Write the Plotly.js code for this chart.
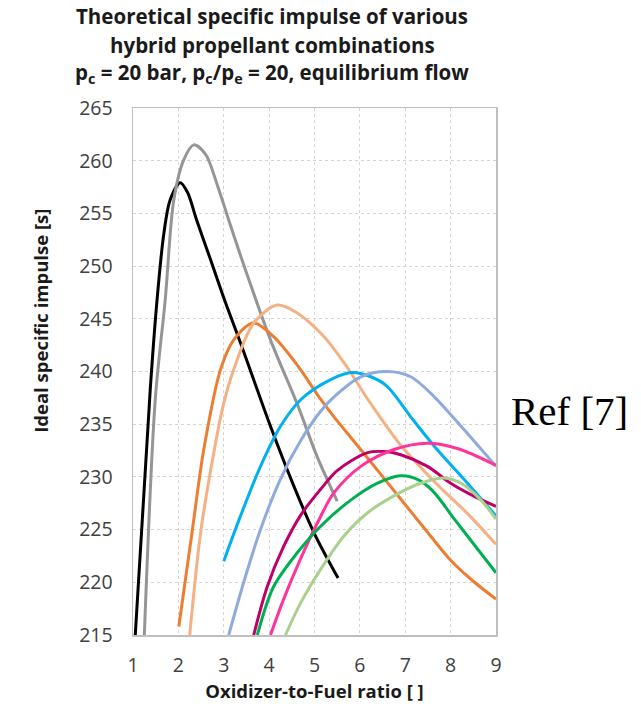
<!DOCTYPE html>
<html>
<head>
<meta charset="utf-8">
<script src="https://cdn.plot.ly/plotly-3.0.1.min.js"></script>
<style>html,body{margin:0;padding:0;background:#fff;}#chart{width:641px;height:710px;}</style>
</head>
<body>
<div id="chart"></div>
<script>
// Series data (x = O/F ratio, y = Isp [s])
const blackX = [1.05, 1.38, 1.53, 1.68, 1.82, 2.04, 2.2, 2.4, 2.71, 3.0, 3.37, 4.03, 4.5, 5.0, 5.52];
const blackY = [215, 238.3, 246.8, 253.1, 256.3, 257.9, 257.0, 254.4, 250.6, 247.0, 242.7, 234.8, 229.6, 224.6, 220.4];

const grayX = [1.25, 1.49, 1.71, 1.9, 2.12, 2.34, 2.6, 2.85, 3.1, 3.37, 4.03, 4.62, 5.06, 5.5];
const grayY = [215, 237.3, 246.8, 256.3, 260.1, 261.5, 260.6, 257.8, 254.5, 251.0, 243.0, 236.9, 231.9, 227.7];

const orangeX = [2.01, 2.3, 2.56, 2.93, 3.22, 3.66, 4.1, 4.62, 5.13, 5.43, 6.17, 6.9, 7.5, 8.0, 8.5, 9.0];
const orangeY = [215.8, 224.7, 232.6, 240.2, 243.0, 244.6, 243.3, 240.6, 237.4, 235.7, 231.8, 227.9, 224.7, 222.1, 220.1, 218.4];

const lightOrangeX = [2.25, 2.49, 2.78, 3.0, 3.22, 3.66, 4.18, 4.6, 5.21, 5.72, 6.2, 6.9, 7.7, 8.4, 9.0];
const lightOrangeY = [215, 224.7, 232.3, 237, 240.2, 244.6, 246.3, 245.6, 243.3, 240.4, 237.2, 233.0, 229.3, 226.4, 223.6];

const blueX = [3.0, 3.37, 3.81, 4.25, 4.69, 5.21, 5.8, 6.24, 6.6, 7.12, 7.64, 8.37, 9.0];
const blueY = [222.0, 226.3, 231.0, 234.8, 237.3, 238.9, 239.9, 239.5, 238.6, 235.7, 232.9, 229.4, 226.3];

const periwinkleX = [3.11, 3.44, 3.81, 4.25, 4.69, 5.13, 5.43, 6.02, 6.6, 7.12, 7.64, 8.23, 9.0];
const periwinkleY = [215, 220.0, 225.0, 229.8, 233.4, 236.2, 237.6, 239.5, 240.0, 239.5, 237.6, 234.8, 231.0];

const crimsonX = [3.66, 3.96, 4.32, 4.7, 5.13, 5.5, 6.17, 6.55, 6.9, 7.49, 8.0, 8.5, 9.0];
const crimsonY = [215, 219.6, 223.4, 226.4, 228.8, 230.6, 232.3, 232.4, 232.1, 231.0, 229.4, 228.2, 227.2];

const pinkX = [4.03, 4.32, 4.69, 5.06, 5.43, 6.02, 6.75, 7.49, 8.15, 9.0];
const pinkY = [215, 218.4, 222.2, 225.6, 228.5, 231.0, 232.6, 233.2, 232.7, 231.1];

const greenX = [3.74, 4.1, 4.62, 5.13, 5.8, 6.39, 6.9, 7.3, 7.6, 8.1, 8.55, 9.0];
const greenY = [215, 219.6, 222.8, 225.3, 227.8, 229.4, 230.1, 229.7, 228.7, 225.9, 223.4, 220.9];

const lightGreenX = [4.36, 4.69, 5.13, 5.65, 6.17, 6.75, 7.34, 7.86, 8.23, 8.67, 9.0];
const lightGreenY = [215, 218.0, 221.2, 224.4, 226.6, 228.2, 229.4, 229.9, 229.4, 227.8, 226.0];

const xTicks = [1, 2, 3, 4, 5, 6, 7, 8, 9];
const yTicks = [215, 220, 225, 230, 235, 240, 245, 250, 255, 260, 265];

const titleLines = [
  "Theoretical specific impulse of various",
  "hybrid propellant combinations",
  "p<sub>c</sub> = 20 bar, p<sub>c</sub>/p<sub>e</sub> = 20, equilibrium flow"
];

const series = [
  [blackX, blackY, "#000000"],
  [grayX, grayY, "#959595"],
  [orangeX, orangeY, "#ED7D31"],
  [lightOrangeX, lightOrangeY, "#F4B183"],
  [blueX, blueY, "#00B0F0"],
  [periwinkleX, periwinkleY, "#8FAADC"],
  [crimsonX, crimsonY, "#C0006A"],
  [pinkX, pinkY, "#FF3399"],
  [greenX, greenY, "#00B050"],
  [lightGreenX, lightGreenY, "#A9D18E"]
];

const traces = series.map(s => ({
  x: s[0], y: s[1], type: "scatter", mode: "lines",
  line: {color: s[2], width: 3, shape: "spline", smoothing: 0.9},
  showlegend: false, hoverinfo: "x+y"
}));

const titleFont = {family: "Open Sans, sans-serif", size: 20.5, color: "#1a1a1a"};
const titleY = [1.1746, 1.1195, 1.0664];
const annotations = titleLines.map((t, i) => ({
  text: "<b>" + t + "</b>", xref: "paper", yref: "paper",
  x: 0.383, y: titleY[i], xanchor: "center", yanchor: "middle",
  showarrow: false, font: titleFont
}));
annotations.push({
  text: "<b>Ideal specific impulse [s]</b>", xref: "paper", yref: "paper",
  x: -0.255, y: 0.597, xanchor: "center", yanchor: "middle", textangle: -90,
  showarrow: false, font: {family: "Open Sans, sans-serif", size: 18.5, color: "#1a1a1a"}
});
annotations.push({
  text: "Ref [7]", xref: "paper", yref: "paper",
  x: 1.036, y: 0.425, xanchor: "left", yanchor: "middle",
  showarrow: false, font: {family: "Liberation Serif, serif", size: 41, color: "#000000"}
});

const layout = {
  width: 641, height: 710,
  margin: {l: 133, r: 145, t: 108, b: 75},
  paper_bgcolor: "#ffffff", plot_bgcolor: "#ffffff",
  xaxis: {
    range: [1, 9], tickvals: xTicks, ticktext: xTicks.map(String),
    showgrid: true, gridcolor: "#d4d4d4", griddash: "dot", gridwidth: 1,
    zeroline: false, showline: true, mirror: true, linecolor: "#bfbfbf", linewidth: 1.5,
    ticks: "", ticklabelstandoff: 12,
    tickfont: {family: "Open Sans, sans-serif", size: 19.5, color: "#404040"},
    title: {text: "<b>Oxidizer-to-Fuel ratio [ ]</b>", standoff: 8,
            font: {family: "Open Sans, sans-serif", size: 18.5, color: "#1a1a1a"}}
  },
  yaxis: {
    range: [215, 265], tickvals: yTicks, ticktext: yTicks.map(String),
    showgrid: true, gridcolor: "#d4d4d4", griddash: "dot", gridwidth: 1,
    zeroline: false, showline: true, mirror: true, linecolor: "#bfbfbf", linewidth: 1.5,
    ticks: "", ticklabelstandoff: 15,
    tickfont: {family: "Open Sans, sans-serif", size: 19.5, color: "#404040"}
  },
  annotations: annotations
};

Plotly.newPlot("chart", traces, layout, {displayModeBar: false, staticPlot: true});
</script>
</body>
</html>
